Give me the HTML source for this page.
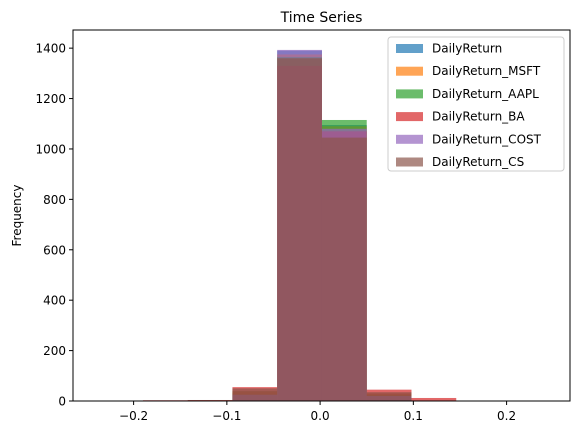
<!DOCTYPE html>
<html><head><meta charset="utf-8"><style>
body{margin:0;background:#fff;}
svg{display:block;font-family:"DejaVu Sans","Liberation Sans",sans-serif;}
</style></head><body>
<svg id="chart" width="580" height="435"></svg>
<script>
const seriesNames=["DailyReturn","DailyReturn_MSFT","DailyReturn_AAPL","DailyReturn_BA","DailyReturn_COST","DailyReturn_CS"];
const colors=["#1f77b4","#ff7f0e","#2ca02c","#d62728","#9467bd","#8c564b"];
const binEdges=[-0.19,-0.142,-0.094,-0.046,0.002,0.050,0.098,0.146];
const vDaily=[0,1,30,1390,1095,30,2];
const vMSFT=[0,1,35,1375,1090,30,1];
const vAAPL=[1,2,40,1365,1115,25,1];
const vBA=[3,4,55,1330,1070,45,12];
const vCOST=[0,1,25,1393,1080,20,1];
const vCS=[2,3,50,1360,1045,35,2];
const xTicks=[-0.2,-0.1,0.0,0.1,0.2];
const xTickLabels=["−0.2","−0.1","0.0","0.1","0.2"];
const yTicks=[0,200,400,600,800,1000,1200,1400];
const allSeries=[vDaily,vMSFT,vAAPL,vBA,vCOST,vCS];

const L=73,R=570,T=30,B=401;
const xMin=-0.265,xMax=0.268,yMax=1472;
const sx=v=>L+(v-xMin)/(xMax-xMin)*(R-L);
const sy=v=>B-v/yMax*(B-T);
const svg=document.getElementById('chart');
const NS="http://www.w3.org/2000/svg";
function mk(tag,attrs,parent){const e=document.createElementNS(NS,tag);for(const k in attrs)e.setAttribute(k,attrs[k]);(parent||svg).appendChild(e);return e;}

const bars=mk('g',{});


allSeries.forEach((vals,si)=>{
  const g=mk('g',{},bars);
  
  
  vals.forEach((v,i)=>{
    if(v<=0)return;
    const x0=sx(binEdges[i]),x1=sx(binEdges[i+1]);
    const r=mk('rect',{x:x0,y:sy(v),width:x1-x0,height:sy(0)-sy(v),fill:colors[si],'fill-opacity':0.7},g);
    
    
  });
});

const frame=mk('rect',{x:L,y:T,width:R-L,height:B-T,fill:'none',stroke:'#000','stroke-width':1});



xTicks.forEach((t,i)=>{
  const x=sx(t);
  const l=mk('line',{x1:x,x2:x,y1:B,y2:B+4,stroke:'#000'});
  
  
  const tx=mk('text',{x:x,y:B+19,'text-anchor':'middle','font-size':12});
  tx.textContent=xTickLabels[i];
  
  
});
yTicks.forEach(t=>{
  const y=sy(t);
  const l=mk('line',{x1:L-4,x2:L,y1:y,y2:y,stroke:'#000'});
  
  
  const tx=mk('text',{x:L-7,y:y+4.5,'text-anchor':'end','font-size':12});
  tx.textContent=t;
  
  
});

const title=mk('text',{x:(L+R)/2,y:T-8,'text-anchor':'middle','font-size':14});
title.textContent="Time Series";



const yt=mk('text',{x:21,y:(T+B)/2,'text-anchor':'middle','font-size':12,transform:'rotate(-90 21 '+((T+B)/2)+')'});
yt.textContent="Frequency";



const lg=mk('g',{});


mk('rect',{x:388,y:37,width:176,height:134,rx:3,fill:'#fff','fill-opacity':0.8,stroke:'#ccc'},lg);
seriesNames.forEach((n,i)=>{
  const y=48+i*22.7;
  const e=mk('g',{},lg);
  
  
  mk('rect',{x:396,y:y-4,width:27,height:9,fill:colors[i],'fill-opacity':0.7},e);
  const t=mk('text',{x:432,y:y+4.5,'font-size':12},e);
  t.textContent=n;
});
</script>
</body></html>
